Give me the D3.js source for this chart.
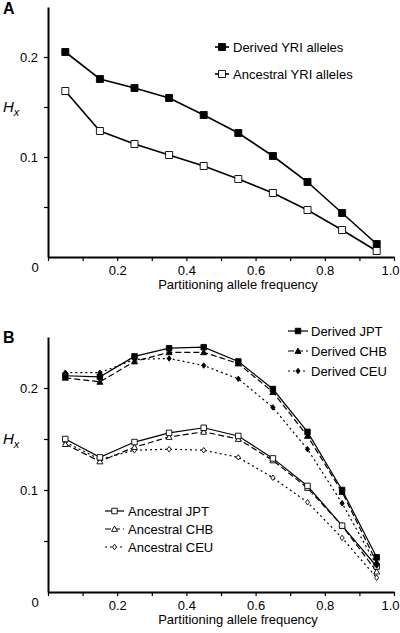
<!DOCTYPE html>
<html><head><meta charset="utf-8">
<script src="https://cdn.jsdelivr.net/npm/d3@7"></script>
<style>body{margin:0;background:#fff}svg{display:block;font-family:"Liberation Sans",Arial,sans-serif}</style>
</head><body><svg id="c" width="400" height="633"></svg>
<script>
const freq = [0.05,0.15,0.25,0.35,0.45,0.55,0.65,0.75,0.85,0.95];
const derivedYRI   = [0.205,0.178,0.169,0.159,0.142,0.124,0.101,0.075,0.044,0.013];
const ancestralYRI = [0.166,0.126,0.113,0.102,0.091,0.078,0.064,0.047,0.027,0.006];
const derivedJPT = [0.212,0.211,0.231,0.239,0.240,0.226,0.199,0.157,0.100,0.034];
const derivedCHB = [0.210,0.206,0.226,0.235,0.235,0.224,0.196,0.153,0.098,0.029];
const derivedCEU = [0.215,0.215,0.228,0.229,0.222,0.209,0.181,0.140,0.087,0.026];
const ancestralJPT = [0.150,0.132,0.147,0.156,0.161,0.153,0.131,0.104,0.065,0.025];
const ancestralCHB = [0.145,0.128,0.142,0.152,0.157,0.150,0.129,0.102,0.065,0.020];
const ancestralCEU = [0.147,0.130,0.139,0.140,0.139,0.132,0.112,0.088,0.053,0.014];
const xTicks = [0,0.1,0.2,0.3,0.4,0.5,0.6,0.7,0.8,0.9,1.0];
const xTickLabels = {"0.2":"0.2","0.4":"0.4","0.6":"0.6","0.8":"0.8","1":"1.0"};
const yTicks = [0.05,0.1,0.15,0.2];
const yTickLabels = {"0.1":"0.1","0.2":"0.2"};
const xTitle = "Partitioning allele frequency";

const svg = d3.select("#c");

function panel(opt){
  const x = d3.scaleLinear().domain([0,1]).range([48,394]);
  const y = d3.scaleLinear().domain([0,0.25]).range([opt.y0, opt.yTop]);
  const g = svg.append("g");
  const xa = g.append("g").attr("transform",`translate(0,${opt.y0})`)
    .call(d3.axisBottom(x).tickValues(xTicks).tickSize(4).tickSizeOuter(0)
      .tickFormat(d=>xTickLabels[String(+d.toFixed(1))]||""));
  const ya = g.append("g").attr("transform","translate(48,0)")
    .call(d3.axisLeft(y).tickValues(yTicks).tickSize(4).tickSizeOuter(0)
      .tickFormat(d=>yTickLabels[String(+d.toFixed(2))]||""));
  [xa,ya].forEach(a=>{
    a.select(".domain").attr("stroke","#000").attr("stroke-width",2);
    a.selectAll(".tick line").attr("stroke","#000").attr("stroke-width",1.2);
    a.selectAll("text").attr("font-size",13).attr("fill","#000").attr("font-family","Liberation Sans, Arial, sans-serif");
  });
  xa.selectAll("text").attr("dy",null).attr("y",18);
  // keep the last label ("1.0") inside the picture
  xa.selectAll(".tick").filter(d=>d===1).select("text").attr("text-anchor","end").attr("x",5);
  ya.selectAll("text").attr("x",-10);
  g.append("text").attr("x",35).attr("y",opt.y0+15).attr("text-anchor","middle")
    .attr("font-size",13).text("0");
  const t = g.append("text").attr("x",3).attr("y",(y(0.15))+5).attr("font-size",15).attr("font-style","italic");
  t.append("tspan").text("H");
  t.append("tspan").attr("font-size",11).attr("dy",4).text("x");
  g.append("text").attr("x",238).attr("y",opt.y0+32).attr("text-anchor","middle")
    .attr("font-size",13).text(xTitle);
  g.append("text").attr("x",3).attr("y",opt.labelY).attr("font-size",16).attr("font-weight","bold").text(opt.label);
  return {x,y,g};
}

function shapePath(shape, s){
  const h = s/2;
  if (shape==="square") return `M${-h},${-h}H${h}V${h}H${-h}Z`;
  if (shape==="triangle") return `M0,${-h}L${h},${h*0.8}L${-h},${h*0.8}Z`;
  return `M0,${-h}L${h*0.75},0L0,${h}L${-h*0.75},0Z`;
}
function marker(sel, shape, size, filled){
  return sel.append("path").attr("d", shapePath(shape,size))
    .attr("fill", filled?"#000":"#fff").attr("stroke","#000").attr("stroke-width",0.9);
}

function series(p, vals, s){
  const line = d3.line().x((d,i)=>p.x(freq[i])).y(d=>p.y(d));
  p.g.append("path").datum(vals).attr("d",line).attr("fill","none").attr("stroke","#000")
    .attr("stroke-width",s.lw).attr("stroke-dasharray",s.dash||null);
  vals.forEach((v,i)=>{
    marker(p.g, s.shape, s.size, s.filled).attr("transform",`translate(${p.x(freq[i])},${p.y(v)})`);
  });
}

function legendItem(g, x1, x2, yc, s, label, tx){
  g.append("line").attr("x1",x1).attr("x2",x2).attr("y1",yc).attr("y2",yc).attr("stroke","#000")
    .attr("stroke-width",s.lw).attr("stroke-dasharray",s.dash||null);
  marker(g, s.shape, s.size, s.filled).attr("transform",`translate(${(x1+x2)/2},${yc})`);
  g.append("text").attr("x",tx).attr("y",yc+5).attr("font-size",13).text(label);
}

// Panel A
const A = panel({y0:257, yTop:7, label:"A", labelY:14});
const sDY = {lw:1.6, shape:"square", size:7, filled:true};
const sAY = {lw:1.6, shape:"square", size:7, filled:false};
series(A, derivedYRI, sDY);
series(A, ancestralYRI, sAY);
legendItem(A.g, 215, 229, 47, sDY, "Derived YRI alleles", 233);
legendItem(A.g, 215, 229, 74, sAY, "Ancestral YRI alleles", 233);

// Panel B
const B = panel({y0:592, yTop:337, label:"B", labelY:343});
const st = {
  dJPT:{lw:1.2, shape:"square", size:5.5, filled:true},
  dCHB:{lw:1.2, shape:"triangle", size:6, filled:true, dash:"6,3"},
  dCEU:{lw:1.2, shape:"diamond", size:5.5, filled:true, dash:"2,3"},
  aJPT:{lw:1.2, shape:"square", size:5.5, filled:false},
  aCHB:{lw:1.2, shape:"triangle", size:6, filled:false, dash:"6,3"},
  aCEU:{lw:1.2, shape:"diamond", size:5.5, filled:false, dash:"2,3"}
};
series(B, ancestralCEU, st.aCEU);
series(B, ancestralCHB, st.aCHB);
series(B, ancestralJPT, st.aJPT);
series(B, derivedCEU, st.dCEU);
series(B, derivedCHB, st.dCHB);
series(B, derivedJPT, st.dJPT);
legendItem(B.g, 288, 308, 331, st.dJPT, "Derived JPT", 311);
legendItem(B.g, 288, 308, 351, st.dCHB, "Derived CHB", 311);
legendItem(B.g, 288, 308, 371, st.dCEU, "Derived CEU", 311);
legendItem(B.g, 105, 124, 511, st.aJPT, "Ancestral JPT", 128);
legendItem(B.g, 105, 124, 529, st.aCHB, "Ancestral CHB", 128);
legendItem(B.g, 105, 124, 547, st.aCEU, "Ancestral CEU", 128);
</script></body></html>
